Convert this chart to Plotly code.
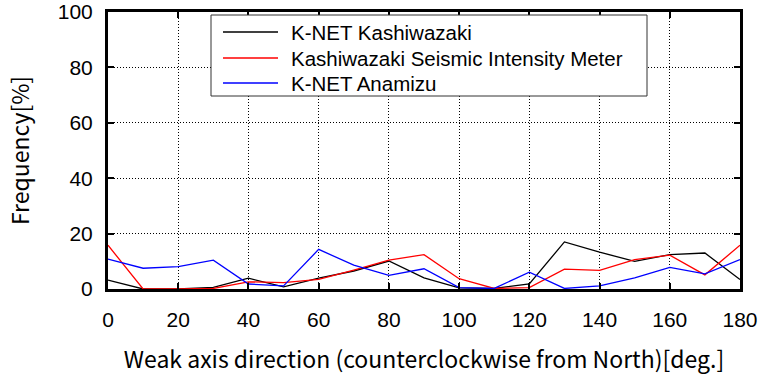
import plotly.graph_objects as go

angles = [0, 10, 20, 30, 40, 50, 60, 70, 80, 90, 100, 110, 120, 130, 140, 150, 160, 170, 180]
knet_kashiwazaki = [3.2, 0.0, 0.0, 0.6, 3.9, 0.8, 3.9, 6.5, 10.1, 4.0, 0.4, 0.2, 1.8, 17.0, 13.3, 10.0, 12.4, 13.0, 3.4]
kashiwazaki_sim = [15.8, 0.0, 0.0, 0.2, 2.6, 2.3, 3.5, 6.8, 10.4, 12.4, 3.7, 0.2, 0.5, 7.2, 6.7, 10.6, 12.2, 5.1, 15.8]
knet_anamizu = [10.8, 7.5, 8.1, 10.4, 1.8, 1.1, 14.3, 8.6, 4.9, 7.3, 0.5, 0.2, 6.1, 0.2, 1.1, 4.0, 7.8, 5.5, 10.6]

names = ["K-NET Kashiwazaki", "Kashiwazaki Seismic Intensity Meter", "K-NET Anamizu"]
colors = ["#000000", "#ff0000", "#0000ff"]
series = [knet_kashiwazaki, kashiwazaki_sim, knet_anamizu]

W, H = 768, 379
ML, MR, MT, MB = 108, 28, 12, 90
PW, PH = W - ML - MR, H - MT - MB


def px(x):
    return (x - ML) / PW


def py(y):
    return (H - MB - y) / PH


fig = go.Figure()
for n, c, s in zip(names, colors, series):
    fig.add_trace(go.Scatter(x=angles, y=s, mode="lines", name=n, showlegend=False,
                             line=dict(color=c, width=1.3)))

axis_common = dict(
    showline=True, linecolor="black", linewidth=3, mirror="ticks",
    ticks="inside", ticklen=6, tickwidth=2, tickcolor="black",
    showgrid=True, gridcolor="black", gridwidth=1, griddash="1px,2px",
    zeroline=False,
    tickfont=dict(family="Liberation Sans", size=21, color="black"),
)

title_font = dict(family="Noto Sans CJK JP", size=23, color="black")
fig.update_xaxes(range=[0, 180], dtick=20, ticklabelstandoff=10, **axis_common,
                 title=dict(text="Weak axis direction (counterclockwise from North)[deg.]",
                            font=title_font, standoff=22))
fig.update_yaxes(range=[0, 100], dtick=20, ticklabelstandoff=8, **axis_common,
                 title=dict(text="Frequency[%]", font=title_font, standoff=22))

# legend box drawn manually
shapes = [dict(type="rect", xref="paper", yref="paper",
               x0=px(211), x1=px(647), y0=py(96), y1=py(15),
               line=dict(color="#333333", width=1), fillcolor="white", layer="above")]
annotations = []
row_y = [32, 58, 83]
for n, c, ry in zip(names, colors, row_y):
    shapes.append(dict(type="line", xref="paper", yref="paper",
                       x0=px(223), x1=px(278), y0=py(ry), y1=py(ry),
                       line=dict(color=c, width=1.3), layer="above"))
    annotations.append(dict(xref="paper", yref="paper", x=px(289), y=py(ry),
                            xanchor="left", yanchor="middle", text=n, showarrow=False,
                            font=dict(family="Liberation Sans", size=20.5, color="black")))

fig.update_layout(
    width=W, height=H,
    margin=dict(l=ML, r=MR, t=MT, b=MB, autoexpand=False),
    plot_bgcolor="white", paper_bgcolor="white",
    shapes=shapes, annotations=annotations, showlegend=False,
)

fig.write_html("out.html")
